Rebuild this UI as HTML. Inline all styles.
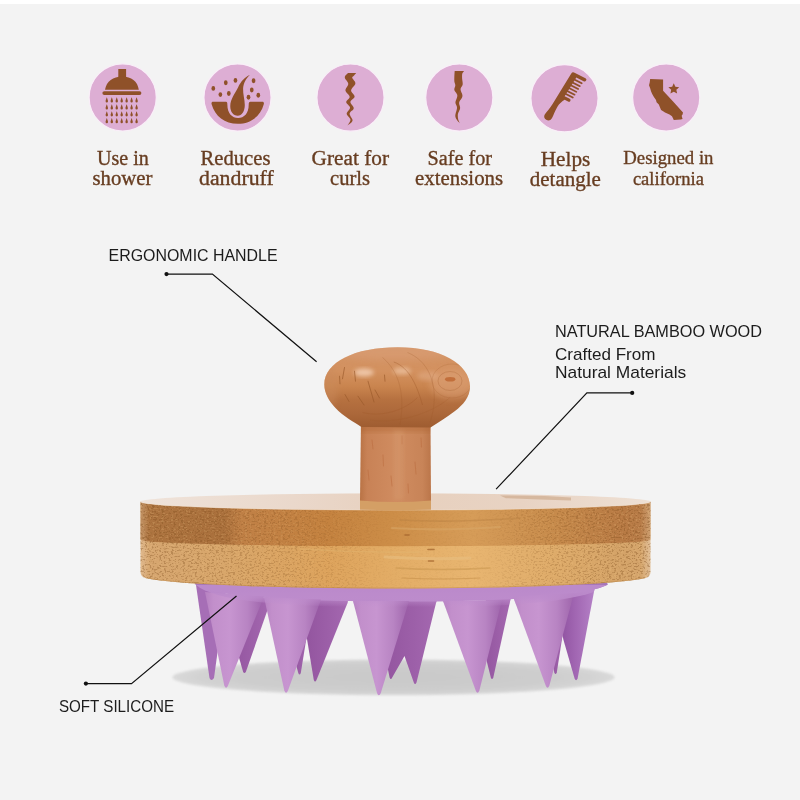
<!DOCTYPE html>
<html lang="en">
<head>
<meta charset="utf-8">
<title>Scalp Massager Features</title>
<style>
  html, body { margin: 0; padding: 0; background: #f3f3f3; }
  body { width: 800px; height: 800px; overflow: hidden; position: relative;
         font-family: "Liberation Sans", sans-serif; }
  .topstrip { position: absolute; left: 0; top: 0; width: 800px; height: 4px; background: #ffffff; }
  svg { position: absolute; left: 0; top: 0; will-change: transform; }
  .feat { font-family: "Liberation Serif", serif; fill: #673d21; stroke: #673d21; stroke-width: 0.35px; font-size: 20.5px; }
  .call { font-family: "Liberation Sans", sans-serif; fill: #1c1c1c; font-size: 17px; }
</style>
</head>
<body>
<div class="topstrip"></div>
<svg width="800" height="800" viewBox="0 0 800 800">
  <defs>
    
    <filter id="blur6" x="-20%" y="-60%" width="140%" height="220%"><feGaussianBlur stdDeviation="3.5"/></filter>
    <filter id="blur2" x="-20%" y="-20%" width="140%" height="140%"><feGaussianBlur stdDeviation="2"/></filter>
    <filter id="blurS" x="-10%" y="-30%" width="120%" height="160%"><feGaussianBlur stdDeviation="1.3"/></filter>
    <filter id="blur1" x="-20%" y="-20%" width="140%" height="140%"><feGaussianBlur stdDeviation="1"/></filter>
    
    <filter id="fSpeck" x="0" y="0" width="100%" height="100%" color-interpolation-filters="sRGB">
      <feTurbulence type="fractalNoise" baseFrequency="0.42 0.62" numOctaves="2" seed="7" result="n"/>
      <feColorMatrix in="n" type="matrix" values="0 0 0 0 0.48  0 0 0 0 0.29  0 0 0 0 0.10  0 0 0 -7.5 3.55"/>
    </filter>
    <filter id="fSpeckL" x="0" y="0" width="100%" height="100%" color-interpolation-filters="sRGB">
      <feTurbulence type="fractalNoise" baseFrequency="0.42 0.62" numOctaves="2" seed="23" result="n"/>
      <feColorMatrix in="n" type="matrix" values="0 0 0 0 0.96  0 0 0 0 0.80  0 0 0 0 0.55  0 0 0 7.5 -4.3"/>
    </filter>
    <linearGradient id="gDotMask" x1="140" x2="651" y1="0" y2="0" gradientUnits="userSpaceOnUse">
      <stop offset="0" stop-color="#fff" stop-opacity="0.34"/><stop offset="0.3" stop-color="#fff" stop-opacity="0.22"/>
      <stop offset="0.48" stop-color="#fff" stop-opacity="0.04"/><stop offset="0.68" stop-color="#fff" stop-opacity="0.04"/>
      <stop offset="0.8" stop-color="#fff" stop-opacity="0.22"/><stop offset="1" stop-color="#fff" stop-opacity="0.36"/>
    </linearGradient>
    <mask id="mDots" maskUnits="userSpaceOnUse" x="130" y="480" width="540" height="130"><rect x="130" y="480" width="540" height="130" fill="url(#gDotMask)"/></mask>
    <radialGradient id="gShadow" cx="0.5" cy="0.5" r="0.5">
      <stop offset="0" stop-color="#c9c9c9"/><stop offset="0.7" stop-color="#cdcdcd"/><stop offset="0.9" stop-color="#d3d3d3"/><stop offset="1" stop-color="#dadada"/>
    </radialGradient>
    <linearGradient id="gFront" x1="0" x2="1" y1="0" y2="0">
      <stop offset="0" stop-color="#b681c1"/><stop offset="0.14" stop-color="#c28fcb"/><stop offset="0.42" stop-color="#c795d0"/><stop offset="0.72" stop-color="#b884c3"/><stop offset="1" stop-color="#9e64ab"/>
    </linearGradient>
    <linearGradient id="gBackR" x1="560" x2="594" y1="0" y2="0" gradientUnits="userSpaceOnUse">
      <stop offset="0" stop-color="#8f52a0"/><stop offset="0.45" stop-color="#a166b2"/><stop offset="1" stop-color="#b480c6"/>
    </linearGradient>
    <linearGradient id="gBack" x1="0" x2="1" y1="0" y2="0">
      <stop offset="0" stop-color="#93559f"/><stop offset="1" stop-color="#a468b0"/>
    </linearGradient>
    <linearGradient id="gBase" x1="0" x2="0" y1="574" y2="602" gradientUnits="userSpaceOnUse">
      <stop offset="0" stop-color="#a374b6"/><stop offset="0.5" stop-color="#a877ba"/><stop offset="0.6" stop-color="#bb8acb"/><stop offset="1" stop-color="#ba88ca"/>
    </linearGradient>
    <linearGradient id="gBaseFade" x1="0" x2="0" y1="590" y2="607" gradientUnits="userSpaceOnUse">
      <stop offset="0" stop-color="#bb8acb" stop-opacity="1"/><stop offset="0.45" stop-color="#bd8ccc" stop-opacity="0.8"/><stop offset="1" stop-color="#c08fce" stop-opacity="0"/>
    </linearGradient>
    <linearGradient id="gSideLight" x1="140" x2="651" y1="0" y2="0" gradientUnits="userSpaceOnUse">
      <stop offset="0" stop-color="#e0ba90"/><stop offset="0.018" stop-color="#d6a670"/><stop offset="0.17" stop-color="#d8a66a"/>
      <stop offset="0.37" stop-color="#dda35c"/><stop offset="0.5" stop-color="#e3ad66"/><stop offset="0.65" stop-color="#e8b570"/>
      <stop offset="0.8" stop-color="#dfac6a"/><stop offset="0.94" stop-color="#d4a368"/><stop offset="0.98" stop-color="#d5a56c"/><stop offset="1" stop-color="#e2c09a"/>
    </linearGradient>
    <linearGradient id="gSideDark" x1="140" x2="651" y1="0" y2="0" gradientUnits="userSpaceOnUse">
      <stop offset="0" stop-color="#c39467"/><stop offset="0.018" stop-color="#ad7440"/><stop offset="0.165" stop-color="#aa703c"/>
      <stop offset="0.2" stop-color="#c08046"/><stop offset="0.37" stop-color="#c4823f"/><stop offset="0.5" stop-color="#cd8e48"/>
      <stop offset="0.65" stop-color="#d69c58"/><stop offset="0.8" stop-color="#c88c4c"/><stop offset="0.94" stop-color="#b87a44"/>
      <stop offset="0.98" stop-color="#b87c48"/><stop offset="1" stop-color="#cfa274"/>
    </linearGradient>
    <linearGradient id="gTop" x1="140" x2="651" y1="0" y2="0" gradientUnits="userSpaceOnUse">
      <stop offset="0" stop-color="#efe3da"/><stop offset="0.3" stop-color="#ead8cb"/><stop offset="0.5" stop-color="#e7d0be"/>
      <stop offset="0.75" stop-color="#e8d3c3"/><stop offset="1" stop-color="#eee0d4"/>
    </linearGradient>
    <linearGradient id="gStem" x1="360" x2="431" y1="0" y2="0" gradientUnits="userSpaceOnUse">
      <stop offset="0" stop-color="#b97345"/><stop offset="0.1" stop-color="#c88256"/><stop offset="0.5" stop-color="#d08c60"/>
      <stop offset="0.88" stop-color="#c88458"/><stop offset="1" stop-color="#bb764a"/>
    </linearGradient>
    <linearGradient id="gHead" x1="0" x2="0" y1="347" y2="428" gradientUnits="userSpaceOnUse">
      <stop offset="0" stop-color="#d39466"/><stop offset="0.3" stop-color="#d3915f"/><stop offset="0.48" stop-color="#ca854f"/>
      <stop offset="0.65" stop-color="#b67140"/><stop offset="0.82" stop-color="#ac683a"/><stop offset="1" stop-color="#9e5c30"/>
    </linearGradient>

  </defs>

  <!-- ===== FEATURE CIRCLES ===== -->
  <g id="circles" fill="#ddaed4" stroke="#f9eef8" stroke-width="1.2">
    <circle cx="122.7" cy="97.4" r="33.6"/>
    <circle cx="237.5" cy="97.5" r="33.6"/>
    <circle cx="350.5" cy="97.6" r="33.6"/>
    <circle cx="459.3" cy="97.5" r="33.6"/>
    <circle cx="564.5" cy="98.3" r="33.6"/>
    <circle cx="666.2" cy="97.5" r="33.6"/>
  </g>

  <!-- ===== ICONS ===== -->
  <g id="icons" fill="#8f5129">
    <g id="shower">
      <rect x="118.3" y="69" width="7.8" height="9"/>
      <path d="M105,89.7 C106.5,81.5 113,76.6 122.2,76.6 C131.4,76.6 137.5,81.5 138.8,89.7 Z"/>
      <rect x="102.4" y="91.2" width="39" height="3.8" rx="1.9"/>
      <path d="M106.80,97.30 C107.30,98.80 108.00,100.20 108.00,101.20 A1.2,1.3 0 0 1 105.60,101.20 C105.60,100.20 106.30,98.80 106.80,97.30Z"/>
      <path d="M111.80,97.30 C112.30,98.80 113.00,100.20 113.00,101.20 A1.2,1.3 0 0 1 110.60,101.20 C110.60,100.20 111.30,98.80 111.80,97.30Z"/>
      <path d="M116.75,97.30 C117.25,98.80 117.95,100.20 117.95,101.20 A1.2,1.3 0 0 1 115.55,101.20 C115.55,100.20 116.25,98.80 116.75,97.30Z"/>
      <path d="M121.70,97.30 C122.20,98.80 122.90,100.20 122.90,101.20 A1.2,1.3 0 0 1 120.50,101.20 C120.50,100.20 121.20,98.80 121.70,97.30Z"/>
      <path d="M126.65,97.30 C127.15,98.80 127.85,100.20 127.85,101.20 A1.2,1.3 0 0 1 125.45,101.20 C125.45,100.20 126.15,98.80 126.65,97.30Z"/>
      <path d="M131.60,97.30 C132.10,98.80 132.80,100.20 132.80,101.20 A1.2,1.3 0 0 1 130.40,101.20 C130.40,100.20 131.10,98.80 131.60,97.30Z"/>
      <path d="M136.60,97.30 C137.10,98.80 137.80,100.20 137.80,101.20 A1.2,1.3 0 0 1 135.40,101.20 C135.40,100.20 136.10,98.80 136.60,97.30Z"/>
      <path d="M106.80,104.30 C107.30,105.80 108.00,107.20 108.00,108.20 A1.2,1.3 0 0 1 105.60,108.20 C105.60,107.20 106.30,105.80 106.80,104.30Z"/>
      <path d="M111.80,104.30 C112.30,105.80 113.00,107.20 113.00,108.20 A1.2,1.3 0 0 1 110.60,108.20 C110.60,107.20 111.30,105.80 111.80,104.30Z"/>
      <path d="M116.75,104.30 C117.25,105.80 117.95,107.20 117.95,108.20 A1.2,1.3 0 0 1 115.55,108.20 C115.55,107.20 116.25,105.80 116.75,104.30Z"/>
      <path d="M121.70,104.30 C122.20,105.80 122.90,107.20 122.90,108.20 A1.2,1.3 0 0 1 120.50,108.20 C120.50,107.20 121.20,105.80 121.70,104.30Z"/>
      <path d="M126.65,104.30 C127.15,105.80 127.85,107.20 127.85,108.20 A1.2,1.3 0 0 1 125.45,108.20 C125.45,107.20 126.15,105.80 126.65,104.30Z"/>
      <path d="M131.60,104.30 C132.10,105.80 132.80,107.20 132.80,108.20 A1.2,1.3 0 0 1 130.40,108.20 C130.40,107.20 131.10,105.80 131.60,104.30Z"/>
      <path d="M136.60,104.30 C137.10,105.80 137.80,107.20 137.80,108.20 A1.2,1.3 0 0 1 135.40,108.20 C135.40,107.20 136.10,105.80 136.60,104.30Z"/>
      <path d="M106.80,111.20 C107.30,112.70 108.00,114.10 108.00,115.10 A1.2,1.3 0 0 1 105.60,115.10 C105.60,114.10 106.30,112.70 106.80,111.20Z"/>
      <path d="M111.80,111.20 C112.30,112.70 113.00,114.10 113.00,115.10 A1.2,1.3 0 0 1 110.60,115.10 C110.60,114.10 111.30,112.70 111.80,111.20Z"/>
      <path d="M116.75,111.20 C117.25,112.70 117.95,114.10 117.95,115.10 A1.2,1.3 0 0 1 115.55,115.10 C115.55,114.10 116.25,112.70 116.75,111.20Z"/>
      <path d="M121.70,111.20 C122.20,112.70 122.90,114.10 122.90,115.10 A1.2,1.3 0 0 1 120.50,115.10 C120.50,114.10 121.20,112.70 121.70,111.20Z"/>
      <path d="M126.65,111.20 C127.15,112.70 127.85,114.10 127.85,115.10 A1.2,1.3 0 0 1 125.45,115.10 C125.45,114.10 126.15,112.70 126.65,111.20Z"/>
      <path d="M131.60,111.20 C132.10,112.70 132.80,114.10 132.80,115.10 A1.2,1.3 0 0 1 130.40,115.10 C130.40,114.10 131.10,112.70 131.60,111.20Z"/>
      <path d="M136.60,111.20 C137.10,112.70 137.80,114.10 137.80,115.10 A1.2,1.3 0 0 1 135.40,115.10 C135.40,114.10 136.10,112.70 136.60,111.20Z"/>
      <path d="M106.80,118.10 C107.30,119.60 108.00,121.00 108.00,122.00 A1.2,1.3 0 0 1 105.60,122.00 C105.60,121.00 106.30,119.60 106.80,118.10Z"/>
      <path d="M111.80,118.10 C112.30,119.60 113.00,121.00 113.00,122.00 A1.2,1.3 0 0 1 110.60,122.00 C110.60,121.00 111.30,119.60 111.80,118.10Z"/>
      <path d="M116.75,118.10 C117.25,119.60 117.95,121.00 117.95,122.00 A1.2,1.3 0 0 1 115.55,122.00 C115.55,121.00 116.25,119.60 116.75,118.10Z"/>
      <path d="M121.70,118.10 C122.20,119.60 122.90,121.00 122.90,122.00 A1.2,1.3 0 0 1 120.50,122.00 C120.50,121.00 121.20,119.60 121.70,118.10Z"/>
      <path d="M126.65,118.10 C127.15,119.60 127.85,121.00 127.85,122.00 A1.2,1.3 0 0 1 125.45,122.00 C125.45,121.00 126.15,119.60 126.65,118.10Z"/>
      <path d="M131.60,118.10 C132.10,119.60 132.80,121.00 132.80,122.00 A1.2,1.3 0 0 1 130.40,122.00 C130.40,121.00 131.10,119.60 131.60,118.10Z"/>
      <path d="M136.60,118.10 C137.10,119.60 137.80,121.00 137.80,122.00 A1.2,1.3 0 0 1 135.40,122.00 C135.40,121.00 136.10,119.60 136.60,118.10Z"/>
    </g>
    <g id="follicle"><ellipse cx="213.29" cy="88.41" rx="1.85" ry="2.45"/><ellipse cx="225.77" cy="82.79" rx="1.85" ry="2.45"/><ellipse cx="235.45" cy="80.42" rx="1.85" ry="2.45"/><ellipse cx="253.56" cy="80.76" rx="1.85" ry="2.45"/><ellipse cx="220.37" cy="94.60" rx="1.85" ry="2.45"/><ellipse cx="228.81" cy="93.47" rx="1.85" ry="2.45"/><ellipse cx="251.76" cy="89.99" rx="1.85" ry="2.45"/><ellipse cx="258.29" cy="95.27" rx="1.85" ry="2.45"/><ellipse cx="248.50" cy="97.30" rx="1.85" ry="2.45"/><path d="M213.06,101.69 L226.00,101.69 C227.12,101.69 227.35,102.47 227.35,104.50 C227.35,113.50 232.19,118.00 238.15,118.00 C244.00,118.00 248.72,113.50 248.72,104.50 C248.72,102.47 249.17,101.69 250.30,101.69 L262.34,101.69 C263.80,101.69 264.25,102.92 263.69,104.50 C260.65,115.97 250.75,123.85 237.81,123.85 C224.87,123.85 214.75,115.97 211.71,104.50 C211.15,102.92 211.60,101.69 213.06,101.69Z"/><path d="M249.85,75.02 C246.25,78.06 243.32,83.12 243.10,88.75 C242.87,94.37 244.79,98.87 244.79,105.06 C244.79,111.47 241.75,115.75 237.70,115.75 C233.31,115.75 230.27,111.59 230.27,106.19 C230.27,98.87 235.22,93.25 238.15,87.17 C240.85,81.55 244.90,77.05 249.85,75.02Z"/></g>
    <path id="curl" d="M348.24,72.96 L348.06,73.11 L347.82,73.32 L347.53,73.55 L347.21,73.82 L346.87,74.11 L346.53,74.41 L346.20,74.72 L345.90,75.02 L345.65,75.32 L345.45,75.59 L345.29,75.84 L345.15,76.07 L345.02,76.29 L344.92,76.50 L344.84,76.72 L344.79,76.95 L344.78,77.21 L344.80,77.51 L344.87,77.84 L344.99,78.23 L345.19,78.66 L345.50,79.15 L345.88,79.67 L346.31,80.23 L346.76,80.81 L347.19,81.41 L347.59,82.02 L347.92,82.64 L348.14,83.26 L348.24,83.88 L348.17,84.50 L347.96,85.14 L347.63,85.79 L347.22,86.46 L346.79,87.13 L346.35,87.80 L345.97,88.48 L345.66,89.15 L345.47,89.81 L345.45,90.46 L345.62,91.11 L345.96,91.77 L346.43,92.42 L346.99,93.07 L347.58,93.72 L348.17,94.37 L348.72,95.00 L349.17,95.62 L349.49,96.23 L349.63,96.82 L349.57,97.39 L349.32,97.94 L348.94,98.47 L348.47,98.99 L347.95,99.50 L347.43,100.01 L346.96,100.52 L346.57,101.03 L346.31,101.55 L346.23,102.08 L346.35,102.63 L346.64,103.17 L347.06,103.72 L347.57,104.27 L348.12,104.83 L348.67,105.38 L349.18,105.95 L349.60,106.51 L349.90,107.08 L350.02,107.66 L349.95,108.25 L349.70,108.84 L349.32,109.44 L348.86,110.05 L348.36,110.66 L347.86,111.27 L347.40,111.88 L347.02,112.49 L346.77,113.10 L346.69,113.70 L346.81,114.30 L347.09,114.90 L347.50,115.50 L347.99,116.10 L348.53,116.70 L349.06,117.30 L349.56,117.89 L349.98,118.49 L350.27,119.08 L350.41,119.67 L350.37,120.28 L350.20,120.93 L349.92,121.61 L349.57,122.28 L349.17,122.95 L348.75,123.58 L348.34,124.17 L347.97,124.69 L347.67,125.13 L347.46,125.48 L347.46,125.48 L347.80,125.20 L348.28,124.86 L348.85,124.46 L349.50,124.02 L350.16,123.52 L350.81,123.00 L351.41,122.44 L351.92,121.86 L352.29,121.27 L352.50,120.68 L352.50,120.05 L352.32,119.37 L352.00,118.65 L351.59,117.90 L351.13,117.14 L350.66,116.38 L350.23,115.62 L349.89,114.89 L349.67,114.20 L349.63,113.55 L349.80,112.95 L350.13,112.39 L350.59,111.87 L351.13,111.36 L351.72,110.87 L352.30,110.38 L352.83,109.88 L353.28,109.38 L353.60,108.84 L353.74,108.28 L353.67,107.69 L353.43,107.06 L353.05,106.42 L352.58,105.77 L352.07,105.11 L351.56,104.44 L351.09,103.79 L350.71,103.15 L350.47,102.53 L350.41,101.93 L350.56,101.36 L350.89,100.82 L351.35,100.30 L351.91,99.80 L352.51,99.30 L353.11,98.80 L353.66,98.29 L354.13,97.77 L354.45,97.23 L354.59,96.66 L354.52,96.07 L354.26,95.47 L353.87,94.85 L353.38,94.22 L352.84,93.58 L352.31,92.94 L351.82,92.28 L351.43,91.63 L351.18,90.97 L351.11,90.31 L351.25,89.64 L351.58,88.96 L352.05,88.26 L352.61,87.56 L353.21,86.85 L353.82,86.15 L354.39,85.46 L354.86,84.78 L355.20,84.13 L355.37,83.49 L355.33,82.87 L355.14,82.24 L354.83,81.62 L354.43,81.01 L353.99,80.41 L353.53,79.84 L353.09,79.30 L352.71,78.79 L352.42,78.33 L352.27,77.92 L352.23,77.56 L352.27,77.27 L352.37,77.03 L352.52,76.82 L352.70,76.65 L352.92,76.48 L353.15,76.32 L353.38,76.16 L353.61,75.97 L353.82,75.75 L354.03,75.49 L354.27,75.21 L354.53,74.91 L354.80,74.60 L355.08,74.29 L355.34,74.00 L355.59,73.72 L355.81,73.48 L356.00,73.27 L356.14,73.11Z"/>
    <path id="ext" d="M454.68,71.11 L454.66,71.41 L454.63,71.78 L454.60,72.22 L454.56,72.72 L454.52,73.25 L454.48,73.82 L454.45,74.39 L454.41,74.97 L454.39,75.53 L454.37,76.07 L454.35,76.60 L454.33,77.15 L454.31,77.71 L454.30,78.28 L454.29,78.85 L454.28,79.41 L454.29,79.97 L454.30,80.50 L454.33,81.01 L454.37,81.49 L454.43,81.94 L454.52,82.35 L454.64,82.74 L454.76,83.12 L454.89,83.48 L455.01,83.84 L455.12,84.20 L455.21,84.57 L455.27,84.95 L455.30,85.37 L455.26,85.80 L455.17,86.23 L455.03,86.68 L454.87,87.13 L454.71,87.59 L454.55,88.06 L454.42,88.54 L454.33,89.02 L454.31,89.51 L454.37,90.01 L454.53,90.52 L454.78,91.02 L455.12,91.54 L455.50,92.05 L455.90,92.58 L456.29,93.12 L456.66,93.67 L456.97,94.24 L457.19,94.83 L457.31,95.44 L457.30,96.08 L457.19,96.76 L457.00,97.46 L456.75,98.19 L456.47,98.92 L456.18,99.66 L455.91,100.38 L455.68,101.09 L455.52,101.77 L455.45,102.41 L455.48,103.00 L455.59,103.56 L455.77,104.08 L455.98,104.58 L456.22,105.07 L456.45,105.57 L456.67,106.08 L456.84,106.62 L456.96,107.20 L457.00,107.83 L456.95,108.53 L456.81,109.28 L456.62,110.08 L456.39,110.91 L456.13,111.75 L455.88,112.59 L455.65,113.41 L455.47,114.19 L455.34,114.92 L455.30,115.58 L455.33,116.18 L455.41,116.73 L455.54,117.25 L455.71,117.74 L455.90,118.20 L456.12,118.64 L456.35,119.05 L456.60,119.45 L456.84,119.84 L457.08,120.23 L457.33,120.60 L457.63,120.97 L457.95,121.33 L458.28,121.67 L458.62,121.99 L458.95,122.29 L459.26,122.56 L459.54,122.80 L459.77,123.00 L459.94,123.17 L459.94,123.17 L459.84,122.96 L459.69,122.69 L459.51,122.38 L459.32,122.03 L459.11,121.65 L458.90,121.24 L458.70,120.81 L458.52,120.36 L458.36,119.91 L458.24,119.45 L458.14,118.98 L458.05,118.48 L457.97,117.96 L457.90,117.42 L457.84,116.87 L457.81,116.31 L457.80,115.74 L457.81,115.17 L457.85,114.59 L457.93,114.03 L458.06,113.46 L458.25,112.89 L458.50,112.31 L458.77,111.73 L459.05,111.15 L459.34,110.56 L459.60,109.97 L459.82,109.39 L460.00,108.80 L460.10,108.22 L460.11,107.64 L460.04,107.06 L459.92,106.49 L459.75,105.91 L459.57,105.34 L459.39,104.76 L459.24,104.18 L459.14,103.60 L459.11,103.01 L459.17,102.41 L459.35,101.81 L459.63,101.21 L460.00,100.60 L460.41,99.99 L460.85,99.38 L461.29,98.76 L461.69,98.14 L462.03,97.51 L462.29,96.86 L462.42,96.21 L462.43,95.54 L462.31,94.83 L462.12,94.10 L461.86,93.37 L461.57,92.63 L461.27,91.90 L460.99,91.18 L460.76,90.50 L460.61,89.85 L460.56,89.24 L460.62,88.69 L460.77,88.19 L460.98,87.72 L461.24,87.29 L461.53,86.87 L461.82,86.45 L462.10,86.03 L462.34,85.58 L462.53,85.11 L462.66,84.59 L462.70,84.03 L462.70,83.43 L462.66,82.80 L462.59,82.15 L462.51,81.49 L462.41,80.84 L462.31,80.19 L462.22,79.56 L462.15,78.96 L462.11,78.39 L462.09,77.86 L462.07,77.33 L462.06,76.82 L462.05,76.33 L462.05,75.85 L462.06,75.39 L462.09,74.94 L462.13,74.52 L462.19,74.12 L462.27,73.75 L462.38,73.39 L462.54,73.05 L462.72,72.73 L462.92,72.42 L463.13,72.14 L463.34,71.88 L463.54,71.65 L463.72,71.44 L463.86,71.26 L463.97,71.11Z"/>
    <g id="comb" transform="translate(572.4,71.6) rotate(32) skewY(-5)">
      <path d="M2.4,0 L14.6,0 A1.8,1.8 0 0 1 14.6,3.6 L6.5,3.6 L6.5,25.6 L12.2,25.6 A1.6,1.6 0 0 1 12.2,28.8 L8.4,28.8 C7.0,31.5 5.9,34.5 5.9,38.5 C5.9,43.5 7.3,47.5 7.3,51 A4.0,4.0 0 0 1 -0.7,51 C-0.7,48 0.3,43.5 0.3,38.5 L0,2.4 A2.4,2.4 0 0 1 2.4,0Z"/>
      <rect x="5" y="5.40" width="9.9" height="1.75" rx="0.8"/><rect x="5" y="8.75" width="9.9" height="1.75" rx="0.8"/><rect x="5" y="12.10" width="9.9" height="1.75" rx="0.8"/><rect x="5" y="15.45" width="9.9" height="1.75" rx="0.8"/><rect x="5" y="18.80" width="9.9" height="1.75" rx="0.8"/><rect x="5" y="22.15" width="9.9" height="1.75" rx="0.8"/>
    </g>
    <g id="cali"><path d="M650.15,78.96 L663.09,79.41 L663.09,90.77 L672.87,101.35 L683.00,112.60 L682.55,114.40 L681.65,115.75 L682.55,118.90 L680.75,119.57 L673.77,119.91 L672.87,118.00 L671.97,116.31 L669.50,114.62 L665.00,112.60 L662.75,111.02 L661.06,110.12 L659.94,107.31 L658.81,104.50 L656.56,102.25 L656.00,100.00 L653.75,96.85 L652.06,93.81 L650.94,91.00 L650.15,88.19 L649.02,85.37 L649.70,82.56Z"/><polygon points="673.77,83.27 675.36,86.79 679.20,87.21 676.34,89.81 677.12,93.59 673.77,91.67 670.42,93.59 671.21,89.81 668.35,87.21 672.19,86.79"/></g>
  </g>

  <!-- ===== FEATURE LABELS ===== -->
  <g id="labels" class="feat">
    <text x="97" y="165" textLength="51.8" lengthAdjust="spacingAndGlyphs">Use in</text>
    <text x="92.5" y="184.8" textLength="60" lengthAdjust="spacingAndGlyphs">shower</text>
    <text x="200.5" y="165" textLength="70" lengthAdjust="spacingAndGlyphs">Reduces</text>
    <text x="199" y="184.8" textLength="74.7" lengthAdjust="spacingAndGlyphs">dandruff</text>
    <text x="311.5" y="165.2" textLength="77.5" lengthAdjust="spacingAndGlyphs">Great for</text>
    <text x="330" y="184.8" textLength="40" lengthAdjust="spacingAndGlyphs">curls</text>
    <text x="427.5" y="165.2" textLength="64.6" lengthAdjust="spacingAndGlyphs">Safe for</text>
    <text x="415.1" y="184.8" textLength="88" lengthAdjust="spacingAndGlyphs">extensions</text>
    <text x="540.8" y="166.1" textLength="49.5" lengthAdjust="spacingAndGlyphs">Helps</text>
    <text x="529.8" y="185.6" textLength="71" lengthAdjust="spacingAndGlyphs">detangle</text>
    <text x="623.3" y="163.6" textLength="90.2" lengthAdjust="spacingAndGlyphs" style="font-size:18.8px">Designed in</text>
    <text x="632.9" y="184.8" textLength="71" lengthAdjust="spacingAndGlyphs" style="font-size:18.8px">california</text>
  </g>

  <!-- ===== PRODUCT ===== -->
  <g id="product">
    <ellipse cx="393.5" cy="677.3" rx="221" ry="18" fill="url(#gShadow)" filter="url(#blurS)"/>
    <g id="spikes">
      <!-- back spikes -->
      <g fill="url(#gBack)">
        <path d="M196,585 L226,590 L214,678 Q211.3,682 209.5,678 Z" fill="#a66eb6"/>
        <path d="M232,598 L270,598 L267.5,610 L246,671.5 Q244.3,674.5 243,671.5 L234,640 Z"/>
        <path d="M292,650 L309,622 L300.8,673 Q299.5,676 298.3,673 Z"/>
        <path d="M306,600 L348,600 L347.5,603 L316.5,680 Q315,683 313.8,680 L306.5,636 Z"/>
        <path d="M386,600 L437,600 L436,603 L416.5,682.5 Q415,685.5 413.8,682.5 L404.5,656 L392.2,677.5 Q390.8,680.5 389.6,677.5 L384,650 Z"/>
        <path d="M486,598 L511,597 L493.3,677.5 Q492,680.5 490.8,677.5 L484,650 Z"/>
        <path d="M551,655 L564,626 L556.8,672.5 Q555.5,675.5 554.3,672.5 Z"/>
      </g>
      <path d="M552,590 L594.5,589 L577.6,678.5 Q576,682 574.6,678.5 L563.5,640 Z" fill="url(#gBackR)"/>
      <!-- base strip -->
      <path d="M194.5,584 L200,574 L602,574 L608,584.5 C590,593.5 540,601.5 401,601.5 C262,601.5 212,594.5 194.5,584 Z" fill="url(#gBase)"/>
      <!-- front spikes -->
      <g fill="url(#gFront)">
        <path d="M205,592 L264,596.5 L228,685.5 Q226,690 224.3,685.5 Z"/>
        <path d="M264,597 L321,599.5 L288,690.5 Q286,695 284.3,690.5 Z"/>
        <path d="M353,601 L409,601 L380.8,693 Q378.8,697.5 377,693 Z"/>
        <path d="M443,601 L502,600 L479.4,690.5 Q477.5,695 475.7,690.5 Z"/>
        <path d="M513,596.5 L574,593 L549.4,685.5 Q547.5,690 545.7,685.5 Z"/>
      </g>
      <clipPath id="cpSil"><path d="M196,585 L226,590 L214,678 Q211.3,682 209.5,678 Z" fill="#a66eb6"/><path d="M232,598 L270,598 L267.5,610 L246,671.5 Q244.3,674.5 243,671.5 L234,640 Z"/><path d="M292,650 L309,622 L300.8,673 Q299.5,676 298.3,673 Z"/><path d="M306,600 L348,600 L347.5,603 L316.5,680 Q315,683 313.8,680 L306.5,636 Z"/><path d="M386,600 L437,600 L436,603 L416.5,682.5 Q415,685.5 413.8,682.5 L404.5,656 L392.2,677.5 Q390.8,680.5 389.6,677.5 L384,650 Z"/><path d="M486,598 L511,597 L493.3,677.5 Q492,680.5 490.8,677.5 L484,650 Z"/><path d="M551,655 L564,626 L556.8,672.5 Q555.5,675.5 554.3,672.5 Z"/><path d="M552,590 L594.5,589 L577.6,678.5 Q576,682 574.6,678.5 L563.5,640 Z"/><path d="M194.5,584 L200,574 L602,574 L608,584.5 C590,593.5 540,601.5 401,601.5 C262,601.5 212,594.5 194.5,584 Z"/><path d="M205,592 L264,596.5 L228,685.5 Q226,690 224.3,685.5 Z"/><path d="M264,597 L321,599.5 L288,690.5 Q286,695 284.3,690.5 Z"/><path d="M353,601 L409,601 L380.8,693 Q378.8,697.5 377,693 Z"/><path d="M443,601 L502,600 L479.4,690.5 Q477.5,695 475.7,690.5 Z"/><path d="M513,596.5 L574,593 L549.4,685.5 Q547.5,690 545.7,685.5 Z"/></clipPath>
      <!-- soft blend of base into spike tops -->
      <path d="M196,585 L608,585 C590,598 540,607.5 401,607.5 C262,607.5 214,599 196,585 Z" fill="url(#gBaseFade)" clip-path="url(#cpSil)"/>
    </g>
    <g id="plate">
      <clipPath id="cpSide"><path d="M140.5,502 L140.5,572 Q140.5,577 146,578.2 A255,13 0 0 0 645,578.2 Q650.5,577 650.5,572 L650.5,501.5 A255,8.5 0 0 1 140.5,501.5 Z"/></clipPath>
      <!-- side (light band) -->
      <path d="M140.5,502 L140.5,572 Q140.5,577 146,578.2 A255,13 0 0 0 645,578.2 Q650.5,577 650.5,572 L650.5,501.5 A255,8.5 0 0 1 140.5,501.5 Z" fill="url(#gSideLight)"/>
      <!-- dark band -->
      <path d="M140.5,502 L140.5,539.6 A255,6.6 0 0 0 650.5,539.6 L650.5,501.5 A255,8.5 0 0 1 140.5,501.5 Z" fill="url(#gSideDark)"/>
      <g clip-path="url(#cpSide)">
        <!-- bamboo pore texture -->
        <g mask="url(#mDots)"><rect x="140" y="495" width="511" height="100" filter="url(#fSpeck)"/><rect x="140" y="495" width="511" height="100" filter="url(#fSpeckL)" opacity="0.6"/></g>
        <!-- streaky grain in the centre -->
        <g stroke-linecap="round" fill="none">
          <path d="M392,528 Q440,531 500,527" stroke="#d9a868" stroke-width="2.2" opacity="0.55"/>
          <path d="M400,520 Q450,523 520,518" stroke="#b98142" stroke-width="1.6" opacity="0.45"/>
          <path d="M385,557 Q430,560 470,558" stroke="#e8be80" stroke-width="3" opacity="0.6"/>
          <path d="M396,568 Q440,571 490,568" stroke="#c9964f" stroke-width="1.4" opacity="0.55"/>
          <path d="M402,578 Q440,580 480,578" stroke="#c08a44" stroke-width="1.2" opacity="0.5"/>
          <path d="M300,549 Q360,553 420,552" stroke="#e3b572" stroke-width="1.6" opacity="0.45"/>
          <path d="M428,549.5 l6,0 M405,535 l4,0 M428.5,561 l5,0" stroke="#a0602a" stroke-width="1.6" opacity="0.7"/>
        </g>
        <!-- underside shadow near bottom edge -->
        <path d="M146,578.2 A255,13 0 0 0 645,578.2" fill="none" stroke="#b98548" stroke-width="2" opacity="0.45"/>
        <!-- left end darker vertical shading -->
        
      </g>
      <!-- top surface -->
      <ellipse cx="395.5" cy="501.7" rx="255" ry="8.4" fill="url(#gTop)"/>
      <path d="M140.5,501.7 A255,8.4 0 0 0 650.5,501.7" fill="none" stroke="#f3e2cf" stroke-width="0.8" opacity="0.5"/>
      <!-- faint engraved mark -->
      <g fill="#c9a585" opacity="0.6">
        <path d="M500,495.4 L545,496 L571,497.6 L571,500.4 L540,499.6 L506,498.2 Z"/>
      </g>
    </g>
    <g id="knob">
      <clipPath id="cpHead"><path d="M324.3,384.5 C324.3,362 355,347.2 397.5,347.2 C441,347.2 470,364 470,386.5 C470,397 463,405 455,411 C447,417 438,422.5 430.5,427.5 L361.4,427 C354,422 343,416 335.5,408 C329,401 324.3,393 324.3,384.5 Z"/></clipPath>
      <clipPath id="cpStem"><path d="M361,420 L430.5,420 L431,500.5 Q395.5,503.5 360,500.5 Z"/></clipPath>
      <!-- reflection of stem on plate top -->
      <path d="M360,500 L431,500 L431,509.7 Q395.5,510.5 360,509.7 Z" fill="#d39c60" opacity="0.95"/>
      <!-- stem -->
      <path d="M361,420 L430.5,420 L431,500.5 Q395.5,503.5 360,500.5 Z" fill="url(#gStem)"/>
      <g clip-path="url(#cpStem)">
        <rect x="360" y="424" width="72" height="8" fill="#a8602c" opacity="0.35" filter="url(#blur2)"/>
        <g stroke="#b8683a" stroke-width="0.9" opacity="0.5" fill="none" stroke-linecap="round">
          <path d="M372,440 l1,9"/><path d="M383,455 l0.5,11"/><path d="M402,436 l0,8"/><path d="M415,462 l1,12"/>
          <path d="M391,476 l1,10"/><path d="M408,484 l0.5,9"/><path d="M368,470 l1,10"/><path d="M421,438 l0.5,9"/>
        </g>
        <rect x="394" y="430" width="10" height="70" fill="#dba679" opacity="0.25" filter="url(#blur2)"/>
      </g>
      <!-- head -->
      <path d="M324.3,384.5 C324.3,362 355,347.2 397.5,347.2 C441,347.2 470,364 470,386.5 C470,397 463,405 455,411 C447,417 438,422.5 430.5,427.5 L361.4,427 C354,422 343,416 335.5,408 C329,401 324.3,393 324.3,384.5 Z" fill="url(#gHead)"/>
      <g clip-path="url(#cpHead)">
        <!-- lower shading -->
        <ellipse cx="452" cy="384" rx="22" ry="14" fill="#dfa47c" opacity="0.55" filter="url(#blur6)"/>
        <ellipse cx="330" cy="386" rx="8" ry="20" fill="#c98a5c" opacity="0.5" filter="url(#blur6)"/>
        <!-- top light -->
        <ellipse cx="395" cy="352" rx="58" ry="8" fill="#dba07a" opacity="0.5" filter="url(#blur6)"/>
        <!-- highlights -->
        <ellipse cx="364" cy="372.5" rx="10" ry="4" fill="#f4d2b8" opacity="0.8" filter="url(#blur2)"/>
        <ellipse cx="402" cy="371" rx="9" ry="3.6" fill="#f0c8a8" opacity="0.7" filter="url(#blur2)"/>
        <ellipse cx="428" cy="376" rx="11" ry="4.5" fill="#e4b08c" opacity="0.5" filter="url(#blur2)"/>
        <!-- grain arcs -->
        <g fill="none" stroke="#9c5627" stroke-width="0.9" opacity="0.5">
          <ellipse cx="450" cy="381" rx="12" ry="9.5" opacity="0.55"/>
          <ellipse cx="452" cy="381" rx="20" ry="17" opacity="0.4"/>
          <path d="M393.8,362.0 C410.0,367.5 417.5,387.5 422.5,405.0" opacity="0.8"/>
          <path d="M407.5,352.5 C432.5,362.5 440.0,392.5 430.0,422.5" opacity="0.5"/>
          <path d="M382.5,357.5 C400.0,372.5 405.0,395.0 400.0,425.0" opacity="0.5"/>
          <path d="M362.5,412.5 C382.5,417.5 405.0,410.0 417.5,397.5" opacity="0.6"/>
          <path d="M370.0,420.0 C395.0,423.8 430.0,415.0 450.0,397.5" opacity="0.4"/>
        </g>
        <!-- flecks -->
        <g stroke="#9a5a2b" stroke-width="1" opacity="0.65" stroke-linecap="round" fill="none">
          <path d="M344.5,367.5 L342.5,378.8"/><path d="M368.0,381.2 L374.0,402.0"/><path d="M345.0,394.5 L349.0,401.5"/>
          <path d="M339.5,376.2 L340.0,383.8"/><path d="M354.5,371.2 L355.5,381.2"/><path d="M358.0,396.2 L364.0,405.0"/>
          <path d="M375.0,390.0 L379.5,398.0"/><path d="M384.5,375.0 L385.0,381.2"/>
        </g>
        <!-- knot -->
        <ellipse cx="450.2" cy="379.2" rx="5.2" ry="2.3" fill="#c06a36" opacity="0.9"/>
      </g>
    </g>
  </g>

  <!-- ===== CALLOUTS ===== -->
  <g id="callouts" fill="none" stroke="#111111" stroke-width="1.2" stroke-linejoin="miter">
    <polyline points="166.5,274.1 212.4,274.1 316.6,361.8"/>
    <polyline points="632.2,392.9 586.9,392.9 496.1,489.2"/>
    <polyline points="85.9,683.6 131.5,683.6 236.5,596"/>
  </g>
  <g fill="#111111">
    <circle cx="166.5" cy="274.1" r="2.1"/>
    <circle cx="632.2" cy="392.9" r="2.1"/>
    <circle cx="85.9" cy="683.6" r="2.1"/>
  </g>
  <g class="call">
    <text x="108.6" y="260.9" textLength="169" lengthAdjust="spacingAndGlyphs">ERGONOMIC HANDLE</text>
    <text x="555" y="337" textLength="207" lengthAdjust="spacingAndGlyphs">NATURAL BAMBOO WOOD</text>
    <text x="555" y="359.5" textLength="100.5" lengthAdjust="spacingAndGlyphs">Crafted From</text>
    <text x="555" y="377.5" textLength="131.2" lengthAdjust="spacingAndGlyphs">Natural Materials</text>
    <text x="58.9" y="712.4" textLength="115.2" lengthAdjust="spacingAndGlyphs">SOFT SILICONE</text>
  </g>
</svg>
</body>
</html>
